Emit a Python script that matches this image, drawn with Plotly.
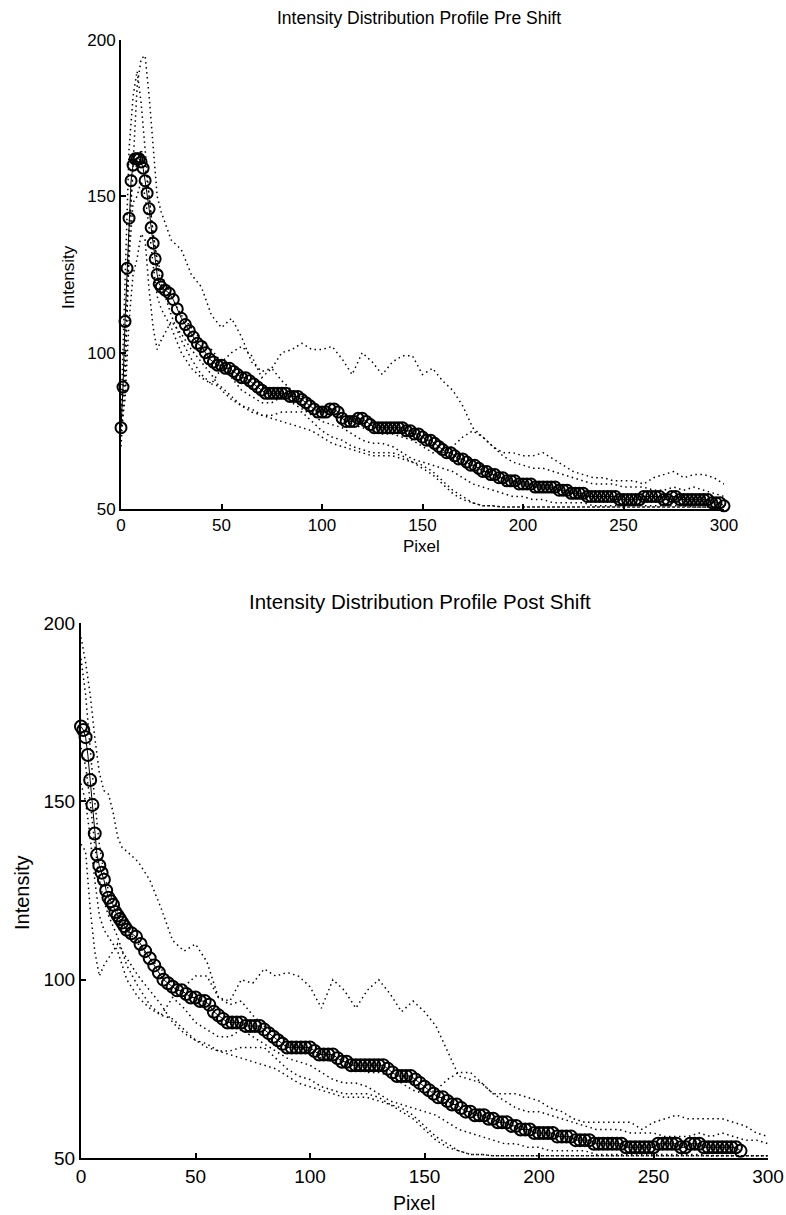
import plotly.graph_objects as go

W, H = 786, 1215

# ---------------- data ----------------
GRID = [0, 2, 4, 6, 8, 10, 12, 14, 16, 18, 20] + list(range(25, 301, 5))

# Pre shift: mean profile (x = 0..20 every pixel, then every 2 pixels)
pre_mean_head = [76, 89, 110, 127, 143, 155, 160, 162, 162, 162, 161, 159, 155, 151,
                 146, 140, 135, 130, 125, 122, 121]
pre_mean_tail = [120, 119, 117, 114, 111, 109, 107, 105, 103, 102,
                 100, 98, 97, 96, 96, 95, 95, 94, 93, 92,
                 92, 91, 90, 89, 88, 87, 87, 87, 87, 87,
                 87, 86, 86, 86, 85, 84, 83, 82, 81, 81,
                 81, 82, 82, 81, 79, 78, 78, 78, 79, 79,
                 78, 77, 76, 76, 76, 76, 76, 76, 76, 76,
                 75, 75, 74, 74, 73, 72, 72, 71, 70, 69,
                 68, 68, 67, 66, 66, 65, 64, 64, 63, 62,
                 62, 61, 61, 60, 60, 59, 59, 59, 58, 58,
                 58, 58, 57, 57, 57, 57, 57, 57, 56, 56,
                 56, 55, 55, 55, 55, 54, 54, 54, 54, 54,
                 54, 54, 54, 53, 53, 53, 53, 53, 53, 54,
                 54, 54, 54, 54, 53, 53, 54, 54, 53, 53,
                 53, 53, 53, 53, 53, 53, 52, 52, 52, 51]

# Pre shift: individual profiles on GRID
pre_p1 = [70, 90, 135, 160, 185, 194, 195, 182, 165, 150, 145,
          136, 133, 125, 121, 112, 108, 111, 105, 97, 94,
          95, 100, 101, 103, 101, 101, 102, 98, 93, 100,
          97, 93, 97, 99, 99, 93, 95, 91, 88, 83,
          76, 73, 70, 68, 68, 67, 67, 68, 66, 64,
          62, 61, 60, 60, 59, 59, 59, 58, 60, 61,
          62, 60, 61, 61, 60, 58]
pre_p2 = [80, 120, 165, 182, 190, 180, 165, 150, 138, 130, 125,
          118, 112, 108, 104, 101, 97, 100, 102, 99, 92,
          95, 91, 88, 86, 84, 81, 80, 79, 77, 76,
          75, 74, 74, 73, 72, 70, 68, 68, 70, 73,
          75, 73, 70, 67, 65, 64, 63, 63, 62, 61,
          60, 59, 58, 58, 58, 57, 57, 57, 56, 56,
          57, 56, 57, 56, 55, 54]
pre_p3 = [75, 100, 140, 158, 160, 165, 160, 150, 138, 128, 122,
          112, 104, 98, 93, 90, 95, 92, 88, 86, 84,
          84, 86, 84, 82, 80, 78, 77, 76, 74, 72,
          71, 71, 70, 68, 66, 65, 64, 63, 62, 60,
          58, 57, 56, 55, 54, 54, 53, 53, 52, 52,
          52, 52, 51, 51, 51, 51, 51, 51, 51, 51,
          51, 51, 50.6, 50.6, 50.6, 50.6]
pre_p4 = [78, 95, 130, 148, 150, 155, 150, 140, 128, 118, 114,
          108, 100, 95, 92, 90, 89, 86, 83, 81, 80,
          80, 81, 81, 81, 78, 75, 73, 72, 70, 69,
          68, 68, 68, 67, 65, 64, 62, 59, 56, 54,
          52, 51, 51, 50.6, 50.6, 50.6, 50.6, 50.6, 50.6, 50.6,
          50.6, 50.6, 50.6, 50.6, 50.6, 50.6, 50.6, 50.6, 50.6, 50.6,
          50.6, 50.6, 50.6, 50.6, 50.6, 50.6]
pre_p5 = [75, 85, 110, 125, 130, 138, 136, 120, 108, 101, 104,
          110, 106, 101, 97, 93, 88, 85, 83, 82, 80,
          79, 78, 77, 76, 75, 73, 71, 70, 69, 68,
          67, 67, 67, 66, 65, 63, 61, 58, 55, 53,
          52, 51, 51, 50.6, 50.6, 50.6, 50.6, 50.6, 50.6, 50.6,
          50.6, 50.6, 50.6, 50.6, 50.6, 50.6, 50.6, 50.6, 50.6, 50.6,
          50.6, 50.6, 50.6, 50.6, 50.6, 50.6]

# Post shift: mean profile
post_mean_head = [171, 170, 168, 163, 156, 149, 141, 135, 132, 130, 128, 125, 123,
                  122, 121, 119, 118, 117, 116, 115, 114]
post_mean_tail = [113, 112, 110, 108, 106, 104, 102, 100, 99, 98,
                  97, 97, 96, 95, 95, 94, 94, 93, 91, 90,
                  89, 88, 88, 88, 88, 87, 87, 87, 87, 86,
                  85, 84, 83, 82, 81, 81, 81, 81, 81, 81,
                  80, 79, 79, 79, 79, 78, 77, 77, 76, 76,
                  76, 76, 76, 76, 76, 76, 75, 74, 73, 73,
                  73, 73, 72, 71, 70, 69, 68, 67, 67, 66,
                  65, 65, 64, 63, 63, 62, 62, 62, 61, 61,
                  60, 60, 60, 59, 59, 58, 58, 58, 57, 57,
                  57, 57, 57, 56, 56, 56, 56, 55, 55, 55,
                  55, 54, 54, 54, 54, 54, 54, 54, 53, 53,
                  53, 53, 53, 53, 53, 54, 54, 54, 54, 54,
                  53, 53, 54, 54, 54, 53, 53, 53, 53, 53,
                  53, 53, 53, 52]

# Post shift: individual profiles on GRID
post_p1 = [196, 189, 180, 168, 158, 153, 152, 147, 140, 137, 136,
           133, 128, 120, 111, 108, 110, 105, 95, 94, 100,
           99, 103, 101, 102, 101, 98, 92, 100, 97, 92,
           97, 100, 96, 91, 94, 91, 87, 80, 73, 72,
           71, 68, 68, 68, 67, 66, 64, 63, 61, 60,
           60, 60, 60, 60, 58, 60, 61, 62, 61, 61,
           61, 61, 60, 59, 57, 56]
post_p2 = [190, 180, 165, 150, 138, 130, 125, 122, 119, 116, 114,
           110, 106, 103, 99, 98, 101, 101, 95, 93, 94,
           90, 87, 85, 83, 81, 80, 78, 77, 76, 75,
           74, 74, 73, 71, 69, 68, 69, 72, 74, 74,
           71, 68, 66, 64, 63, 63, 62, 61, 60, 59,
           58, 58, 58, 57, 57, 57, 56, 56, 56, 57,
           56, 57, 56, 55, 55, 54]
post_p3 = [165, 160, 150, 138, 128, 122, 118, 115, 112, 108, 104,
           98, 93, 90, 95, 92, 88, 86, 84, 84, 86,
           84, 82, 80, 78, 77, 76, 74, 72, 71, 71,
           70, 68, 66, 65, 64, 63, 62, 60, 58, 57,
           56, 55, 54, 54, 53, 53, 52, 52, 52, 52,
           51, 51, 51, 51, 51, 51, 51, 51, 51, 51,
           50.6, 50.6, 50.6, 50.6, 50.6, 50.6]
post_p4 = [155, 150, 140, 128, 118, 114, 112, 110, 108, 104, 100,
           95, 92, 90, 89, 86, 83, 81, 80, 80, 81,
           81, 81, 78, 75, 73, 72, 70, 69, 68, 68,
           68, 67, 65, 64, 62, 59, 56, 54, 52, 51,
           51, 50.6, 50.6, 50.6, 50.6, 50.6, 50.6, 50.6, 50.6, 50.6,
           50.6, 50.6, 50.6, 50.6, 50.6, 50.6, 50.6, 50.6, 50.6, 50.6,
           50.6, 50.6, 50.6, 50.6, 50.6, 50.6]
post_p5 = [138, 136, 120, 108, 101, 104, 106, 108, 110, 108, 106,
           101, 97, 93, 88, 85, 83, 82, 80, 79, 78,
           77, 76, 75, 73, 71, 70, 69, 68, 67, 67,
           67, 66, 65, 63, 61, 58, 55, 53, 52, 51,
           51, 50.6, 50.6, 50.6, 50.6, 50.6, 50.6, 50.6, 50.6, 50.6,
           50.6, 50.6, 50.6, 50.6, 50.6, 50.6, 50.6, 50.6, 50.6, 50.6,
           50.6, 50.6, 50.6, 50.6, 50.6, 50.6]

X_TICKS = [0, 50, 100, 150, 200, 250, 300]
Y_TICKS = [50, 100, 150, 200]
TITLES = ["Intensity Distribution Profile Pre Shift",
          "Intensity Distribution Profile Post Shift"]
X_LABEL = "Pixel"
Y_LABEL = "Intensity"

# ---------------- figure ----------------
def mean_x(head, tail):
    return list(range(len(head))) + [len(head) + 1 + 2 * i for i in range(len(tail))]

FONT = "Liberation Sans, Arial, Helvetica, sans-serif"
fig = go.Figure()

panels = [
    dict(xa="x", ya="y", head=pre_mean_head, tail=pre_mean_tail,
         profs=[pre_p1, pre_p2, pre_p3, pre_p4, pre_p5], msize=11),
    dict(xa="x2", ya="y2", head=post_mean_head, tail=post_mean_tail,
         profs=[post_p1, post_p2, post_p3, post_p4, post_p5], msize=12),
]

for p in panels:
    for prof in p["profs"]:
        fig.add_trace(go.Scatter(
            x=GRID, y=prof, mode="lines", xaxis=p["xa"], yaxis=p["ya"],
            line=dict(color="black", width=1.5, dash="1.5px,3.5px"),
            showlegend=False, hoverinfo="skip"))
    fig.add_trace(go.Scatter(
        x=mean_x(p["head"], p["tail"]), y=p["head"] + p["tail"],
        mode="lines+markers", xaxis=p["xa"], yaxis=p["ya"],
        line=dict(color="black", width=1),
        marker=dict(symbol="circle-open", size=p["msize"], color="black",
                    line=dict(width=2, color="black")),
        cliponaxis=False, showlegend=False))

def px2paper_x(px):
    return px / W

def px2paper_y(py):
    return 1 - py / H

def axis_common(fsize):
    return dict(showline=True, linecolor="black", linewidth=2, mirror=False,
                ticks="inside", ticklen=5, tickwidth=1.5, tickcolor="black",
                showgrid=False, zeroline=False, automargin=False,
                tickfont=dict(family=FONT, size=fsize, color="black"))

fig.update_layout(
    width=W, height=H, autosize=False,
    margin=dict(l=0, r=0, t=0, b=0, pad=0, autoexpand=False),
    paper_bgcolor="white", plot_bgcolor="white",
    xaxis=dict(domain=[px2paper_x(121), px2paper_x(724)], range=[0, 300],
               tickvals=X_TICKS, anchor="y", **axis_common(17)),
    yaxis=dict(domain=[px2paper_y(509), px2paper_y(40)], range=[50, 200],
               tickvals=Y_TICKS, anchor="x", **axis_common(17)),
    xaxis2=dict(domain=[px2paper_x(81), px2paper_x(768)], range=[0, 300],
                tickvals=X_TICKS, anchor="y2", **axis_common(19)),
    yaxis2=dict(domain=[px2paper_y(1158), px2paper_y(623)], range=[50, 200],
                tickvals=Y_TICKS, anchor="x2", **axis_common(19)),
)

annots = [
    (TITLES[0], 419, 18, 17.5, 0),
    (X_LABEL, 421, 546, 17, 0),
    (Y_LABEL, 68, 277, 17, -90),
    (TITLES[1], 420, 601, 20.5, 0),
    (X_LABEL, 414, 1203, 19.5, 0),
    (Y_LABEL, 22, 893, 20, -90),
]
for text, px, py, fs, ang in annots:
    fig.add_annotation(text=text, x=px2paper_x(px), y=px2paper_y(py),
                       xref="paper", yref="paper", showarrow=False,
                       xanchor="center", yanchor="middle", textangle=ang,
                       font=dict(family=FONT, size=fs, color="black"))

fig.write_html("out.html", config={"displayModeBar": False},
               post_script="document.body.style.margin='0';document.body.style.overflow='hidden';")
